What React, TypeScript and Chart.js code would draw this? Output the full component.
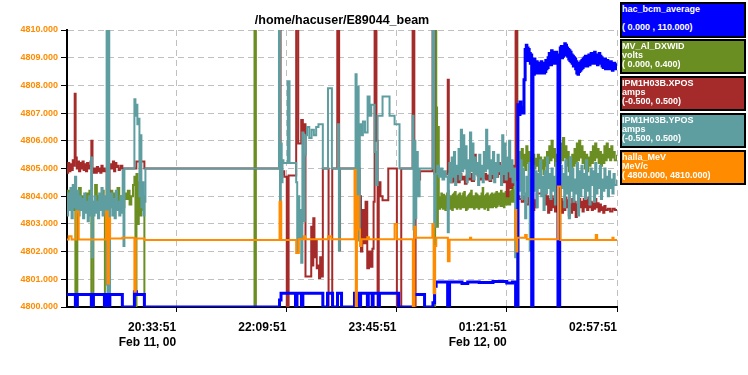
import React, { useEffect, useRef } from 'react';
import { Chart, registerables } from 'chart.js';

Chart.register(...registerables);

// time axis: minutes since 18:57:51 (Feb 11); display scale 4800..4810
const xTickValues = [96, 192, 288, 384, 480];
const xTickTimes = ['20:33:51', '22:09:51', '23:45:51', '01:21:51', '02:57:51'];
const xTickDates = ['Feb 11, 00', '', '', 'Feb 12, 00', ''];
const yTickValues = [4800, 4801, 4802, 4803, 4804, 4805, 4806, 4807, 4808, 4809, 4810];

const titleText = '/home/hacuser/E89044_beam';

const legendNames = ['hac_bcm_average', 'MV_Al_DXWID', 'IPM1H03B.XPOS', 'IPM1H03B.YPOS', 'halla_MeV'];
const legendUnits = ['', 'volts', 'amps', 'amps', 'MeV/c'];
const legendRanges = ['( 0.000 , 110.000)', '( 0.000, 0.400)', '(-0.500, 0.500)', '(-0.500, 0.500)', '( 4800.000, 4810.000)'];
const legendColors = ['#0000ff', '#6b8e23', '#a52a2a', '#5f9ea0', '#ff8c00'];

const bcmPoints: [number, number][] = [
  [0, 4800.45], [8.3, 4800.0], [10.0, 4800.45], [22.2, 4800.0], [24.0, 4800.45], [33.6, 4800.0], [34.9, 4800.45],
  [35.7, 4800.0], [38.3, 4800.45], [49.2, 4800.0], [59.7, 4800.55], [61.4, 4800.45], [68.4, 4800.0],
  [186.1, 4800.25], [187.4, 4800.5], [200.0, 4800.0], [201.3, 4800.5], [205.2, 4800.0], [206.4, 4800.5],
  [223.8, 4800.0], [227.9, 4800.5], [232.3, 4800.0], [236.6, 4800.5], [240.1, 4800.0], [251.4, 4800.5],
  [253.2, 4800.0], [254.1, 4800.5], [255.8, 4800.0], [256.7, 4800.5], [262.6, 4800.0], [263.4, 4800.5],
  [266.8, 4800.0], [267.6, 4800.5], [272.3, 4800.0], [273.1, 4800.5], [289.8, 4800.0], [302.8, 4800.45],
  [312.4, 4800.0], [319.7, 4800.15], [321.1, 4800.75], [322.5, 4800.9], [332.5, 4800.0], [334.2, 4800.9],
  [345, 4800.85], [350, 4800.9], [360, 4800.88], [372, 4800.92], [384, 4800.87], [389, 4800.9], [391.7, 4800.0],
  [393.7, 4807.3], [394.5, 4806.95], [395.5, 4807.4], [396.3, 4807.0], [397, 4807.2], [398, 4807.0], [399, 4808.2],
  [400, 4809.3], [400.5, 4809.0], [401, 4809.45], [401.5, 4809.1], [402, 4809.35], [402.5, 4808.9], [403, 4809.3],
  [403.5, 4808.95], [404, 4809.15], [404.5, 4808.8], [405, 4809.1], [405.7, 4800.0],
  [406.8, 4808.7], [407.4, 4808.4], [408, 4808.95], [408.5, 4808.55], [409, 4808.8], [409.5, 4808.45], [410, 4808.85],
  [410.5, 4808.5], [411, 4808.75], [411.5, 4808.45], [412, 4808.8], [412.5, 4808.5], [413, 4808.7],
  [413.5, 4808.45], [414, 4808.85], [414.5, 4808.55], [415, 4808.75], [415.5, 4808.5], [416, 4808.8],
  [416.5, 4808.45], [417, 4808.7], [417.5, 4808.5], [418, 4808.9], [418.5, 4808.6], [419, 4808.8],
  [419.5, 4808.65], [420, 4809.0], [420.5, 4808.75], [421, 4809.15], [421.5, 4808.8], [422, 4809.05],
  [422.5, 4808.75], [423, 4809.25], [423.5, 4808.9], [424, 4809.1], [424.5, 4808.8], [425, 4809.2],
  [425.5, 4808.85], [426, 4809.1], [426.5, 4808.8], [427, 4809.2], [427.5, 4808.9], [428, 4809.05],
  [428.6, 4800.0], [430.1, 4809.1], [430.6, 4809.35], [431, 4809.05], [431.5, 4809.4], [432, 4809.0],
  [432.5, 4809.3], [433, 4809.05], [433.5, 4809.4], [434, 4809.1], [434.5, 4809.5], [435, 4809.2],
  [435.5, 4809.45], [436, 4809.1], [436.5, 4809.35], [437, 4809.05], [437.5, 4809.3], [438, 4808.95],
  [438.5, 4809.25], [439, 4808.9], [439.5, 4809.2], [440, 4808.85], [440.5, 4809.1], [441, 4808.8],
  [441.5, 4809.05], [442, 4808.7], [442.5, 4809.0], [443, 4808.75], [443.5, 4808.95], [444, 4808.6],
  [444.5, 4808.85], [445, 4808.45], [445.5, 4808.75], [446, 4808.4], [446.5, 4808.7], [447, 4808.5],
  [447.5, 4808.8], [448, 4808.55], [448.5, 4808.85], [449, 4808.6], [449.5, 4808.9], [450, 4808.65],
  [450.5, 4808.95], [451, 4808.7], [451.5, 4809.0], [452, 4808.75], [452.5, 4809.05], [453, 4808.8],
  [453.5, 4809.0], [454, 4808.7], [454.5, 4809.05], [455, 4808.8], [455.5, 4809.1], [456, 4808.75],
  [456.5, 4809.05], [457, 4808.8], [457.5, 4809.15], [458, 4808.85], [458.5, 4809.1], [459, 4808.8],
  [459.5, 4809.15], [460, 4808.85], [460.5, 4809.2], [461, 4808.9], [461.5, 4809.1], [462, 4808.8],
  [462.5, 4809.05], [463, 4808.75], [463.5, 4809.1], [464, 4808.8], [464.5, 4809.15], [465, 4808.85],
  [465.5, 4809.05], [466, 4808.8], [466.5, 4809.0], [467, 4808.7], [467.5, 4808.95], [468, 4808.65],
  [468.5, 4808.9], [469, 4808.7], [469.5, 4808.95], [470, 4808.6], [470.5, 4808.85], [471, 4808.65],
  [471.5, 4808.9], [472, 4808.6], [472.5, 4808.85], [473, 4808.65], [473.5, 4808.8], [474, 4808.6],
  [474.5, 4808.85], [475, 4808.6], [475.5, 4808.8], [476, 4808.55], [476.5, 4808.75], [477, 4808.6],
  [477.5, 4808.8], [478, 4808.6], [479, 4808.75], [480, 4808.65],
];

const dxwidPoints: [number, number][] = [
  [0, 4803.8], [1.5, 4804.2], [3, 4803.6], [4.5, 4804.0], [6, 4803.5], [7.5, 4804.1], [8.3, 4800.0], [10, 4803.9],
  [11.5, 4804.3], [13, 4803.7], [14.5, 4804.0], [16, 4803.5], [17.5, 4804.1], [19, 4803.6], [20.5, 4804.2],
  [22.2, 4800.0], [24, 4803.8], [25.5, 4804.4], [27, 4803.7], [28.5, 4804.0], [30, 4803.5], [31.5, 4804.2],
  [33, 4803.8], [34.0, 4800.0], [37.5, 4803.9], [39, 4804.2], [40.5, 4803.6], [42, 4804.1], [43.5, 4803.8],
  [45, 4804.3], [46.5, 4803.7], [48, 4804.0], [49.5, 4803.6], [51, 4804.1], [52.5, 4803.9], [54, 4804.2],
  [55.5, 4803.7], [57, 4804.0], [58.5, 4804.4], [59.7, 4804.7], [60.6, 4800.0], [61.5, 4804.8], [62.5, 4803.0],
  [63.5, 4804.5], [64.5, 4803.3], [65.5, 4804.2], [66.5, 4803.5], [67.5, 4804.0], [68.4, 4798],
  [164.3, 4811], [165.5, 4798],
  [321.6, 4811], [322.6, 4807.2], [323.3, 4802.9], [324.0, 4806.5], [324.8, 4803.9],
  [325, 4803.9], [325.5, 4803.55], [326, 4803.95], [326.5, 4803.6], [327, 4804.1], [327.5, 4803.65], [328, 4804.0],
  [328.5, 4803.55], [329, 4804.05], [329.5, 4803.6], [330, 4803.95], [330.5, 4803.5], [331, 4804.0], [331.5, 4803.6],
  [332, 4804.1], [332.5, 4803.65], [333, 4804.2], [333.5, 4803.6], [334, 4803.95], [334.5, 4803.55], [335, 4804.0],
  [335.5, 4803.6], [336, 4803.95], [336.5, 4803.5], [337, 4804.05], [337.5, 4803.65], [338, 4804.1], [338.5, 4803.6],
  [339, 4804.15], [339.5, 4803.6], [340, 4803.95], [340.5, 4803.55], [341, 4804.0], [341.5, 4803.65], [342, 4804.05],
  [342.5, 4803.6], [343, 4804.1], [343.5, 4803.55], [344, 4803.95], [344.5, 4803.6], [345, 4804.0], [345.5, 4803.65],
  [346, 4804.1], [346.5, 4803.6], [347, 4804.15], [347.5, 4803.6], [348, 4803.95], [348.5, 4803.5], [349, 4803.9],
  [349.5, 4803.55], [350, 4804.0], [350.5, 4803.6], [351, 4804.05], [351.5, 4803.65], [352, 4804.1], [352.5, 4803.6],
  [353, 4804.2], [353.5, 4803.65], [354, 4804.0], [354.5, 4803.6], [355, 4803.95], [355.5, 4803.55], [356, 4804.0],
  [356.5, 4803.6], [357, 4804.1], [357.5, 4803.7], [358, 4804.05], [358.5, 4803.6], [359, 4804.0], [359.5, 4803.55],
  [360, 4803.95], [360.5, 4803.6], [361, 4804.0], [361.5, 4803.65], [362, 4804.1], [362.5, 4803.6], [363, 4804.3],
  [363.5, 4803.65], [364, 4804.0], [364.5, 4803.55], [365, 4803.95], [365.5, 4803.6], [366, 4804.05], [366.5, 4803.6],
  [367, 4804.1], [367.5, 4803.5], [368, 4803.9], [368.5, 4803.6], [369, 4804.0], [369.5, 4803.65], [370, 4804.05],
  [370.5, 4803.6], [371, 4804.1], [371.5, 4803.6], [372, 4804.0], [372.5, 4803.65], [373, 4804.05], [373.5, 4803.7],
  [374, 4804.1], [374.5, 4803.6], [375, 4804.15], [375.5, 4803.65], [376, 4804.0], [376.5, 4803.7], [377, 4804.1],
  [377.5, 4803.7], [378, 4804.05], [378.5, 4803.65], [379, 4804.2], [379.5, 4803.7], [380, 4804.05], [380.5, 4803.65],
  [381, 4804.1], [381.5, 4803.6], [382, 4804.0], [382.5, 4803.7], [383, 4804.15], [383.5, 4803.75], [384, 4804.1],
  [384.5, 4803.7], [385, 4804.3], [385.5, 4803.75], [386, 4804.1], [386.5, 4803.7], [387, 4804.15], [387.5, 4803.8],
  [388, 4804.2], [388.5, 4803.85], [389, 4804.4], [389.5, 4803.8], [390, 4804.2], [390.5, 4803.8], [391, 4804.2],
  [392.0, 4811], [393.2, 4798],
  [394, 4805.0], [395, 4805.6], [396, 4804.9], [397, 4805.7], [398, 4805.1], [399, 4805.5], [400, 4804.95],
  [401, 4805.8], [402, 4805.2], [403, 4805.6], [404, 4805.0], [405, 4805.4], [406, 4805.1], [407, 4805.5],
  [408, 4805.0], [409, 4805.35], [410, 4805.1], [411, 4805.5], [412, 4804.9], [413, 4805.4], [414, 4805.0],
  [415, 4805.3], [416, 4804.8], [417, 4805.4], [418, 4805.1], [419, 4805.6], [420, 4805.2], [421, 4805.8],
  [422, 4805.3], [423, 4806.0], [424, 4805.4], [425, 4805.7], [426, 4805.1], [427, 4805.5], [428, 4805.0],
  [429, 4805.6], [430, 4805.2], [431, 4805.9], [432, 4805.3], [433, 4806.1], [434, 4805.4], [435, 4805.8],
  [436, 4805.1], [437, 4805.6], [438, 4804.9], [439, 4805.4], [440, 4805.0], [441, 4805.5], [442, 4805.1],
  [443, 4805.7], [444, 4805.2], [445, 4805.9], [446, 4805.3], [447, 4806.0], [448, 4805.4], [449, 4805.8],
  [450, 4805.2], [451, 4805.6], [452, 4805.0], [453, 4805.5], [454, 4804.9], [455, 4805.4], [456, 4805.1],
  [457, 4805.6], [458, 4805.2], [459, 4805.8], [460, 4805.3], [461, 4805.9], [462, 4805.4], [463, 4805.7],
  [464, 4805.2], [465, 4805.6], [466, 4805.1], [467, 4805.5], [468, 4805.2], [469, 4805.8], [470, 4805.3],
  [471, 4805.9], [472, 4805.4], [473, 4805.7], [474, 4805.3], [475, 4805.8], [476, 4805.4], [477, 4805.6],
  [478, 4805.3], [480, 4805.5],
];

const xposPoints: [number, number][] = [
  [0, 4805.0], [1, 4804.85], [2, 4805.2], [3, 4804.9], [4, 4805.15], [5, 4804.95], [6, 4805.3], [7, 4805.1],
  [7.7, 4807.7], [8.5, 4805.4], [9.5, 4805.0], [10.5, 4805.25], [11.5, 4804.9], [12.5, 4805.2], [13.5, 4805.0],
  [14.5, 4805.25], [15.5, 4804.95], [16.5, 4805.15], [17.5, 4804.9], [18.5, 4805.2], [19.5, 4805.0], [20.5, 4805.1],
  [21.5, 4805.25], [22.2, 4806.0], [23.2, 4805.0], [24, 4804.85], [25, 4805.0], [26, 4804.85], [27, 4805.05],
  [28, 4804.9], [29, 4805.0], [30, 4804.85], [31, 4805.1], [32, 4804.9], [33, 4805.0], [34, 4804.9],
  [35.6, 4803.5], [36.2, 4800.8], [37.2, 4803.2], [38.0, 4805.0], [39, 4805.15], [40, 4805.0], [41, 4805.25],
  [42, 4804.9], [43, 4805.2], [44, 4805.05], [45, 4805.1], [46, 4804.95], [47, 4805.0], [48, 4805.1],
  [49.2, 4805.0], [61.4, 4805.25], [68.4, 4805.0],
  [186.1, 4811], [187.0, 4804.8], [188.4, 4804.9], [190.2, 4804.7], [192.4, 4799], [194.0, 4804.75],
  [200.6, 4811], [202.4, 4805.9], [205.0, 4806.75], [206.4, 4806.3], [207.5, 4806.6], [208.7, 4801.1],
  [213.7, 4802.9], [214.5, 4801.5], [215.5, 4803.2], [216.5, 4801.8], [217.5, 4802.4], [218.5, 4801.4],
  [219.4, 4801.5], [220.5, 4801.05], [221.5, 4801.8], [222.5, 4801.1], [223.8, 4805.0], [228.8, 4799],
  [232.0, 4805.0], [236.4, 4811], [238.0, 4802.05], [238.8, 4805.0], [255.8, 4804.0], [257, 4802.0],
  [258.2, 4803.5], [259.5, 4802.3], [261.0, 4803.8], [262.5, 4801.4], [264, 4802.0], [265.5, 4801.45],
  [267, 4802.1], [268, 4803.8], [268.9, 4811], [270.5, 4806.0], [271.5, 4799], [272.5, 4804.5], [274, 4804.0],
  [275.8, 4803.85], [280.8, 4805.0], [288.3, 4799], [292.1, 4805.0], [302.0, 4811], [303.5, 4799],
  [304.6, 4804.9], [305.5, 4804.3], [307, 4804.6], [308.5, 4804.9], [319.4, 4811], [321.0, 4804.8],
  [332.6, 4808.2], [333.5, 4804.75],
  [334, 4804.7], [335.5, 4804.5], [337, 4804.8], [338.5, 4804.55], [340, 4804.75], [341.5, 4804.5], [343, 4804.8],
  [344.5, 4804.6], [346, 4804.7], [347.5, 4804.45], [349, 4804.75], [350.5, 4804.6], [352, 4804.8], [353.5, 4804.55],
  [355.5, 4805.5], [357, 4805.2], [358.5, 4804.75], [360, 4804.6], [361.5, 4804.85], [363, 4804.65], [364.5, 4804.8],
  [366, 4804.6], [367.5, 4804.75], [369, 4804.55], [370.5, 4804.8], [372, 4804.65], [373.5, 4804.85], [375, 4804.7],
  [376.5, 4805.2], [378, 4804.8], [379.5, 4805.1], [381, 4804.5], [382.5, 4805.2], [384, 4804.0], [385.5, 4804.9],
  [387, 4804.3], [388.5, 4805.1], [390, 4804.4], [391.7, 4811], [393.0, 4804.0],
  [395, 4803.9], [397, 4803.8], [399, 4804.0], [401, 4803.7], [403, 4803.95], [405, 4803.6], [406, 4803.9],
  [407, 4803.5], [408, 4803.85], [409, 4803.6], [410, 4804.1], [418, 4803.7], [419, 4804.0], [420, 4803.4],
  [421, 4803.9], [422, 4803.5], [423, 4804.0], [424, 4803.6], [425, 4803.9], [426, 4803.45], [427, 4803.8],
  [428, 4803.55], [429, 4804.05], [430, 4803.6], [431, 4803.9], [432, 4803.4], [433, 4803.8], [434, 4803.5],
  [435, 4803.95], [436, 4803.6], [437, 4803.85], [438, 4803.3], [439, 4803.7], [440, 4803.4], [441, 4803.9],
  [442, 4803.5], [443, 4803.8], [444, 4803.25], [445, 4803.7], [446, 4803.5], [447, 4803.9], [448, 4803.6],
  [449, 4803.8], [450, 4803.45], [451, 4803.9], [452, 4803.6], [453, 4803.85], [454, 4803.5], [455, 4803.95],
  [456, 4803.6], [457, 4803.8], [458, 4803.5], [459, 4803.75], [460, 4803.55], [461, 4803.9], [462, 4803.6],
  [463, 4803.75], [464, 4803.45], [465, 4803.7], [466, 4803.5], [467, 4803.6], [468, 4803.4], [469, 4803.65],
  [470, 4803.5], [472, 4803.55], [474, 4803.45], [476, 4803.55], [478, 4803.5], [480, 4803.5],
];

const yposPoints: [number, number][] = [
  [0, 4803.8], [1, 4803.3], [2, 4804.1], [3, 4803.5], [4, 4804.3], [5, 4803.2], [6, 4804.4], [7, 4803.6],
  [8, 4804.7], [9, 4803.4], [10, 4804.2], [11, 4803.3], [12, 4804.0], [13, 4803.5], [14, 4803.9], [15, 4803.2],
  [16, 4804.1], [17, 4803.4], [18, 4803.8], [19, 4803.1], [20, 4804.0], [21, 4803.3], [22, 4805.4], [22.8, 4801.8],
  [23.5, 4803.8], [24, 4803.3], [25, 4804.0], [26, 4803.4], [27, 4803.8], [28, 4803.2], [29, 4804.1], [30, 4803.5],
  [31, 4804.3], [32, 4803.3], [33, 4804.0], [34, 4803.4], [35.5, 4811], [36.3, 4799], [37, 4811], [37.8, 4799],
  [38.5, 4803.6], [39.5, 4804.1], [40.5, 4803.3], [41.5, 4803.9], [42.5, 4803.2], [43.5, 4804.2], [44.5, 4803.5],
  [45.5, 4803.8], [46.5, 4803.3], [47.5, 4804.0], [48.5, 4803.4], [49.5, 4804.95], [50.2, 4802.2], [51, 4805.0],
  [59.7, 4807.5], [60.6, 4806.9], [61.4, 4807.3], [62.3, 4806.6], [63.2, 4806.8], [64.1, 4804.0], [64.9, 4806.2],
  [65.8, 4803.6], [66.7, 4804.5], [67.5, 4803.3], [68.4, 4803.8], [69.3, 4805.0],
  [185.6, 4811], [186.5, 4803.4], [187.2, 4805.9], [188.0, 4804.5], [188.7, 4805.3], [189.5, 4805.2],
  [193.3, 4808.15], [194.8, 4805.2], [200.6, 4804.5], [201.5, 4802.0], [202.4, 4804.0], [203.3, 4802.5],
  [204.1, 4803.5], [205.0, 4801.6], [206.0, 4806.3], [207.0, 4803.1], [208.0, 4805.5], [209.0, 4806.2],
  [210.0, 4806.5], [212, 4806.1], [214, 4806.4], [216, 4806.2], [218, 4806.5], [220, 4806.6], [223.8, 4805.0],
  [228.3, 4807.9], [231.7, 4805.0], [237.0, 4806.6], [237.8, 4802.05], [238.6, 4805.0], [252.3, 4808.4],
  [253.2, 4803.6], [254.0, 4807.95], [255.0, 4802.4], [256.0, 4806.6], [257.5, 4806.2], [258.7, 4806.7],
  [260.5, 4806.3], [262.8, 4807.6], [264.5, 4806.9], [266, 4807.3], [268.9, 4805.6], [270, 4804.4],
  [271.5, 4806.9], [275.8, 4807.6], [281.9, 4806.9], [286.3, 4806.6], [290.6, 4805.0], [302.0, 4806.9],
  [302.8, 4802.8], [303.6, 4806.0], [304.4, 4803.2], [305.2, 4805.6], [306.5, 4804.0], [308.1, 4805.0],
  [319.5, 4811], [320.8, 4802.9], [322.0, 4804.8], [323.5, 4805.1], [325, 4804.7], [326.5, 4805.0], [328, 4804.6],
  [329.5, 4804.9], [331, 4804.7], [332.6, 4802.7], [333.5, 4804.8],
  [334, 4805.2], [335, 4804.5], [336, 4805.4], [337, 4804.7], [338, 4805.6], [339, 4804.4], [340, 4805.1],
  [341, 4804.8], [342, 4805.7], [343, 4804.6], [344, 4806.4], [345, 4804.9], [346, 4806.2], [347, 4805.0],
  [348, 4805.8], [349, 4804.5], [350, 4805.3], [351, 4804.7], [352, 4806.3], [353, 4804.9], [354, 4805.9],
  [355, 4804.6], [356, 4805.4], [357, 4804.8], [358, 4805.2], [359, 4804.4], [360, 4805.5], [361, 4804.7],
  [362, 4805.1], [363, 4804.5], [364, 4805.6], [365, 4804.9], [366, 4806.4], [367, 4805.0], [368, 4805.8],
  [369, 4804.6], [370, 4805.3], [371, 4804.8], [372, 4805.6], [373, 4804.5], [374, 4805.2], [375, 4804.7],
  [376, 4805.5], [377, 4804.9], [378, 4805.1], [379, 4804.4], [380, 4806.2], [381, 4804.8], [382, 4805.9],
  [383, 4804.6], [384, 4805.4], [385, 4804.9], [386, 4806.0], [387, 4804.7], [388, 4805.3], [389, 4804.5],
  [390, 4805.0], [391.3, 4801.8], [392.5, 4804.5],
  [393, 4804.5], [394, 4805.6], [395, 4804.2], [396, 4805.3], [397, 4803.9], [398, 4805.0], [399, 4804.1],
  [400, 4803.2], [401, 4804.7], [402, 4804.0], [403, 4805.2], [404, 4802.05], [405, 4804.6], [406, 4803.8],
  [407, 4805.1], [408, 4804.2], [409, 4804.9], [410, 4803.6], [411, 4804.8], [412, 4804.3], [413, 4805.3],
  [414, 4804.0], [415, 4804.7], [416, 4803.5], [417, 4804.9], [418, 4804.1], [419, 4805.4], [420, 4804.3],
  [421, 4804.8], [422, 4803.9], [423, 4805.0], [424, 4804.2], [425, 4804.7], [426, 4803.7], [427, 4805.2],
  [428, 4804.4], [429, 4804.9], [430, 4804.0], [431, 4805.1], [432, 4804.3], [433, 4804.8], [434, 4803.6],
  [435, 4805.3], [436, 4804.1], [437, 4804.7], [438, 4803.2], [439, 4805.4], [440, 4804.2], [441, 4805.0],
  [442, 4803.8], [443, 4804.6], [444, 4804.1], [445, 4805.2], [446, 4803.3], [447, 4804.9], [448, 4804.0],
  [449, 4805.1], [450, 4804.3], [451, 4804.8], [452, 4803.9], [453, 4805.3], [454, 4804.2], [455, 4804.7],
  [456, 4803.7], [457, 4805.0], [458, 4804.4], [459, 4804.9], [460, 4803.8], [461, 4805.2], [462, 4804.1],
  [463, 4804.8], [464, 4804.3], [465, 4805.1], [466, 4803.9], [467, 4804.6], [468, 4804.2], [469, 4805.0],
  [470, 4804.3], [471, 4804.7], [472, 4804.0], [473, 4804.9], [474, 4804.3], [475, 4804.6], [476, 4804.1],
  [477, 4804.8], [478, 4804.4], [480, 4804.6],
];

const meVPoints: [number, number][] = [
  [0, 4802.44], [2.5, 4802.55], [5, 4802.44], [9.0, 4803.45], [11.2, 4802.44], [35.0, 4803.45], [36.5, 4800.85],
  [37.5, 4803.2], [38.5, 4802.47], [49.2, 4802.5], [59.7, 4800.55], [60.9, 4802.47], [68.4, 4802.42],
  [186.1, 4803.8], [187.6, 4802.42], [200.6, 4801.95], [202.9, 4802.45], [207.3, 4802.55], [208.5, 4802.45],
  [228.3, 4802.55], [231.2, 4802.45], [251.4, 4804.95], [252.5, 4800.0], [253.5, 4804.0], [254.9, 4802.8],
  [256.2, 4802.2], [257.5, 4802.45], [262.5, 4802.52], [264, 4802.45], [286.3, 4803.0], [288.3, 4802.45],
  [302.2, 4800.0], [303.5, 4802.9], [304.8, 4802.5], [319.2, 4803.0], [320.3, 4800.5], [321.5, 4802.2],
  [322.6, 4802.5], [332.7, 4801.65], [334.2, 4802.43], [352, 4802.5], [353, 4802.43], [391.4, 4803.5],
  [392.3, 4802.0], [393.2, 4802.5], [400, 4802.6], [401.4, 4802.45], [428.6, 4804.35], [430.7, 4802.42],
  [461.5, 4802.6], [462.7, 4802.42], [476, 4802.5], [477, 4802.42], [480, 4802.42],
];

const FONT = "'Liberation Sans', Arial, Helvetica, sans-serif";

function toXY(points: [number, number][]) {
  return points.map(([x, y]) => ({ x, y }));
}

export default function App() {
  const ref = useRef<HTMLCanvasElement>(null);

  useEffect(() => {
    if (!ref.current) return;
    const mk = (label: string, pts: [number, number][], color: string, width: number) => ({
      label,
      data: toXY(pts),
      borderColor: color,
      backgroundColor: color,
      borderWidth: width,
      pointRadius: 0,
      stepped: true as const,
      tension: 0,
      fill: false,
    });
    const chart = new Chart(ref.current, {
      type: 'line',
      data: {
        datasets: [
          mk('halla_MeV', meVPoints, legendColors[4], 2),
          mk('hac_bcm_average', bcmPoints, legendColors[0], 3),
          mk('IPM1H03B.YPOS', yposPoints, legendColors[3], 2),
          mk('IPM1H03B.XPOS', xposPoints, legendColors[2], 2),
          mk('MV_Al_DXWID', dxwidPoints, legendColors[1], 2),
        ],
      },
      options: {
        responsive: false,
        animation: false,
        events: [],
        layout: { padding: { left: 0, right: 131, top: 30, bottom: 0 } },
        plugins: {
          legend: { display: false },
          title: { display: false },
          tooltip: { enabled: false },
        },
        scales: {
          x: {
            type: 'linear',
            min: 1,
            max: 480,
            afterBuildTicks: (s: any) => {
              s.ticks = xTickValues.map((v) => ({ value: v }));
            },
            afterFit: (s: any) => {
              s.height = 68;
            },
            grid: { color: '#c0c0c0', lineWidth: 1, tickColor: '#000000', tickLength: 5, tickBorderDash: [100, 0] },
            border: { display: true, color: '#000000', width: 2, dash: [6, 4] },
            ticks: {
              autoSkip: false,
              maxRotation: 0,
              minRotation: 0,
              align: 'end',
              padding: 8,
              color: '#000000',
              font: { family: FONT, size: 12, weight: 'bold', lineHeight: 1.25 },
              callback: (value: any) => {
                const i = xTickValues.indexOf(Number(value));
                if (i < 0) return '';
                return xTickDates[i] ? [xTickTimes[i], xTickDates[i]] : xTickTimes[i];
              },
            },
          },
          y: {
            type: 'linear',
            min: 4800,
            max: 4810,
            afterBuildTicks: (s: any) => {
              s.ticks = yTickValues.map((v) => ({ value: v }));
            },
            afterFit: (s: any) => {
              s.width = 67;
            },
            grid: { color: '#c0c0c0', lineWidth: 1, tickColor: '#000000', tickLength: 6, tickBorderDash: [100, 0] },
            border: { display: true, color: '#000000', width: 2, dash: [6, 4] },
            ticks: {
              padding: 3,
              color: '#ff8c00',
              font: { family: FONT, size: 9, weight: 'bold' },
              callback: (value: any) => Number(value).toFixed(3),
            },
          },
        },
      },
    } as any);
    return () => chart.destroy();
  }, []);

  return (
    <div style={{ position: 'absolute', left: 0, top: 0, width: 748, height: 375, background: '#ffffff', overflow: 'hidden' }}>
      <canvas ref={ref} width={748} height={375} style={{ display: 'block', width: 748, height: 375 }} />
      <div
        style={{
          position: 'absolute', left: 67, top: 13, width: 550, textAlign: 'center',
          font: `bold 12.5px ${FONT}`, lineHeight: '15px', color: '#000000', whiteSpace: 'nowrap',
        }}
      >
        {titleText}
      </div>
      {legendNames.map((name, i) => (
        <div
          key={name}
          style={{
            position: 'absolute', left: 620, top: 2 + i * 36.9, width: 126, height: 35.5, boxSizing: 'border-box',
            border: '2px solid #000000', background: legendColors[i], color: '#ffffff',
            font: `bold 9px ${FONT}`, lineHeight: '9px', padding: '1px 0 0 0', whiteSpace: 'pre', overflow: 'hidden',
          }}
        >
          <div style={{ height: 9 }}>{name}</div>
          <div style={{ height: 9 }}>{legendUnits[i]}</div>
          <div style={{ height: 9 }}>{legendRanges[i]}</div>
        </div>
      ))}
    </div>
  );
}
